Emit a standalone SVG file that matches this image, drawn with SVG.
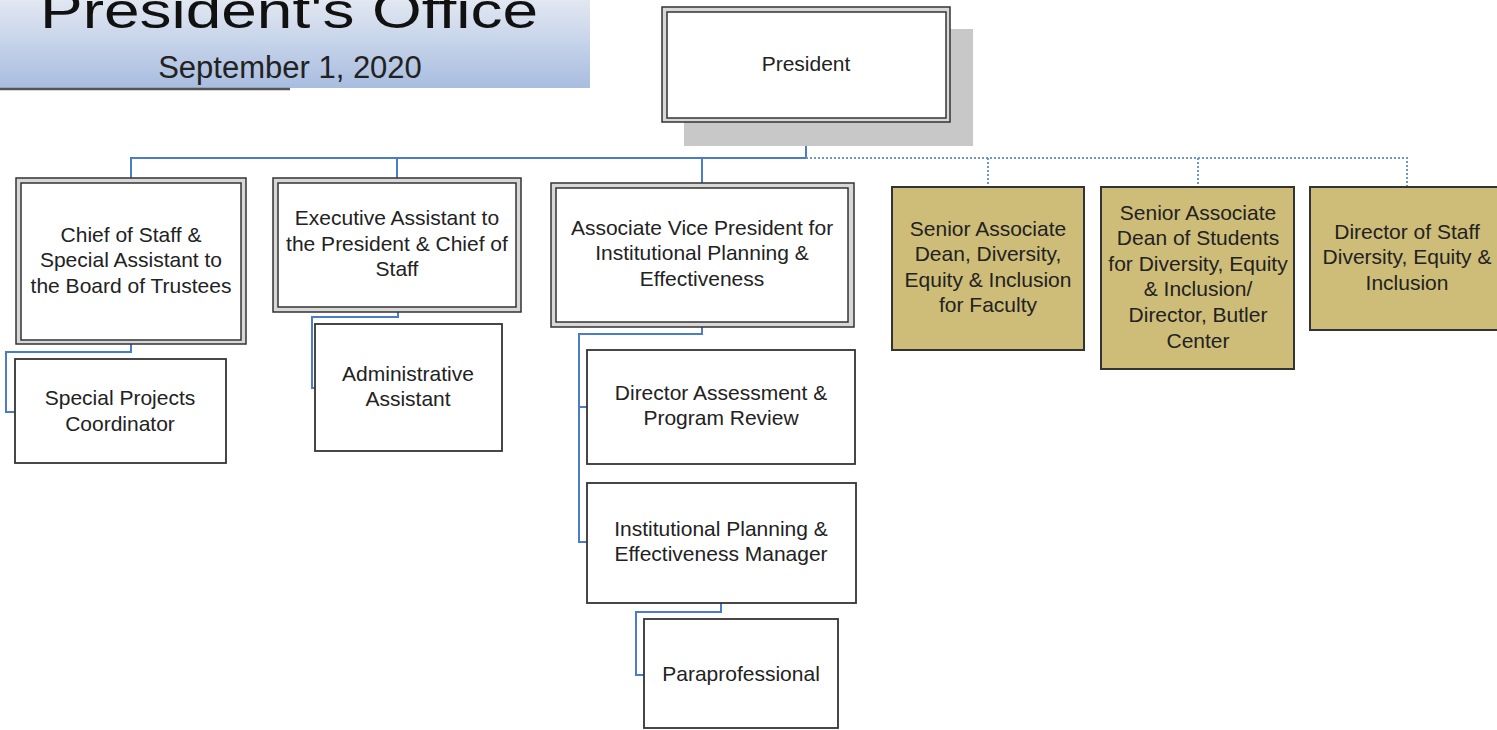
<svg xmlns="http://www.w3.org/2000/svg" width="1497" height="730" viewBox="0 0 1497 730">
<defs>
<linearGradient id="bannerGrad" x1="0" y1="0" x2="0" y2="1">
<stop offset="0" stop-color="#e2e8f2"/>
<stop offset="1" stop-color="#a8bde0"/>
</linearGradient>
</defs>
<style>
.t{font-family:"Liberation Sans",Arial,sans-serif;font-size:21px;fill:#222;text-anchor:middle}
.outer{fill:#d8d8d8;stroke:#333;stroke-width:1.5}
.inner{fill:#fff;stroke:#333;stroke-width:1.5}
.box{fill:#fff;stroke:#333;stroke-width:1.8}
.gold{fill:#cebd78;stroke:#333;stroke-width:2}
.conn{fill:none;stroke:#4a7cc9;stroke-width:2}
.dot{fill:none;stroke:#6f94d2;stroke-width:2;stroke-dasharray:2 2}
</style>
<rect width="1497" height="730" fill="#fff"/>
<g id="title">
<rect x="0" y="0" width="590" height="88" fill="url(#bannerGrad)"/>
<line x1="0" y1="89" x2="290" y2="89" stroke="#555" stroke-width="2.5"/>
<text x="40" y="28" font-family="Liberation Sans,Arial,sans-serif" font-size="50" fill="#111" textLength="498" lengthAdjust="spacingAndGlyphs">President's Office</text>
<text x="290" y="78" font-family="Liberation Sans,Arial,sans-serif" font-size="31" fill="#222" text-anchor="middle">September 1, 2020</text>
</g>
<g id="connectors">
<path class="conn" d="M806,122 V158 H131 V178"/>
<path class="conn" d="M397,158 V178"/>
<path class="conn" d="M702,158 V183"/>
<path class="conn" d="M131,344 V352 H6 V412 H15"/>
<path class="conn" d="M398,312 V317 H312 V388 H315"/>
<path class="conn" d="M702,327 V334 H579 V542 H587"/>
<path class="conn" d="M579,407 H587"/>
<path class="conn" d="M721,603 V612 H636 V675 H644"/>
<path class="dot" d="M806,158 H1407 V187"/>
<path class="dot" d="M988,158 V187"/>
<path class="dot" d="M1198,158 V187"/>
</g>
<g id="president">
<rect x="684" y="29" width="289" height="117" fill="#c8c8c8"/>
<rect class="outer" x="662" y="7" width="288" height="115"/>
<rect class="inner" x="667" y="12" width="279" height="106"/>
<text class="t" x="806" y="71">President</text>
</g>
<g id="chief-of-staff">
<rect class="outer" x="16" y="178" width="230" height="166"/>
<rect class="inner" x="21" y="183" width="220" height="157"/>
<text class="t" x="131" y="242">Chief of Staff &amp;</text>
<text class="t" x="131" y="267">Special Assistant to</text>
<text class="t" x="131" y="293">the Board of Trustees</text>
</g>
<g id="special-projects">
<rect class="box" x="15" y="359" width="211" height="104"/>
<text class="t" x="120" y="405">Special Projects</text>
<text class="t" x="120" y="431">Coordinator</text>
</g>
<g id="exec-assistant">
<rect class="outer" x="273" y="178" width="248" height="134"/>
<rect class="inner" x="278" y="183" width="238" height="124"/>
<text class="t" x="397" y="225">Executive Assistant to</text>
<text class="t" x="397" y="251">the President &amp; Chief of</text>
<text class="t" x="397" y="276">Staff</text>
</g>
<g id="admin-assistant">
<rect class="box" x="315" y="324" width="187" height="127"/>
<text class="t" x="408" y="381">Administrative</text>
<text class="t" x="408" y="406">Assistant</text>
</g>
<g id="avp">
<rect class="outer" x="551" y="183" width="303" height="144"/>
<rect class="inner" x="556" y="188" width="292" height="134"/>
<text class="t" x="702" y="235">Associate Vice President for</text>
<text class="t" x="702" y="260">Institutional Planning &amp;</text>
<text class="t" x="702" y="286">Effectiveness</text>
</g>
<g id="director-assessment">
<rect class="box" x="587" y="350" width="268" height="114"/>
<text class="t" x="721" y="400">Director Assessment &amp;</text>
<text class="t" x="721" y="425">Program Review</text>
</g>
<g id="ipe-manager">
<rect class="box" x="587" y="483" width="269" height="120"/>
<text class="t" x="721" y="536">Institutional Planning &amp;</text>
<text class="t" x="721" y="561">Effectiveness Manager</text>
</g>
<g id="paraprofessional">
<rect class="box" x="644" y="619" width="194" height="109"/>
<text class="t" x="741" y="681">Paraprofessional</text>
</g>
<g id="dei-faculty">
<rect class="gold" x="892" y="187" width="192" height="163"/>
<text class="t" x="988" y="236">Senior Associate</text>
<text class="t" x="988" y="261">Dean, Diversity,</text>
<text class="t" x="988" y="287">Equity &amp; Inclusion</text>
<text class="t" x="988" y="312">for Faculty</text>
</g>
<g id="dei-students">
<rect class="gold" x="1101" y="187" width="193" height="182"/>
<text class="t" x="1198" y="220">Senior Associate</text>
<text class="t" x="1198" y="245">Dean of Students</text>
<text class="t" x="1198" y="271">for Diversity, Equity</text>
<text class="t" x="1198" y="296">&amp; Inclusion/</text>
<text class="t" x="1198" y="322">Director, Butler</text>
<text class="t" x="1198" y="348">Center</text>
</g>
<g id="dei-staff">
<rect class="gold" x="1310" y="187" width="200" height="143"/>
<text class="t" x="1407" y="239">Director of Staff</text>
<text class="t" x="1407" y="264">Diversity, Equity &amp;</text>
<text class="t" x="1407" y="290">Inclusion</text>
</g>
</svg>
